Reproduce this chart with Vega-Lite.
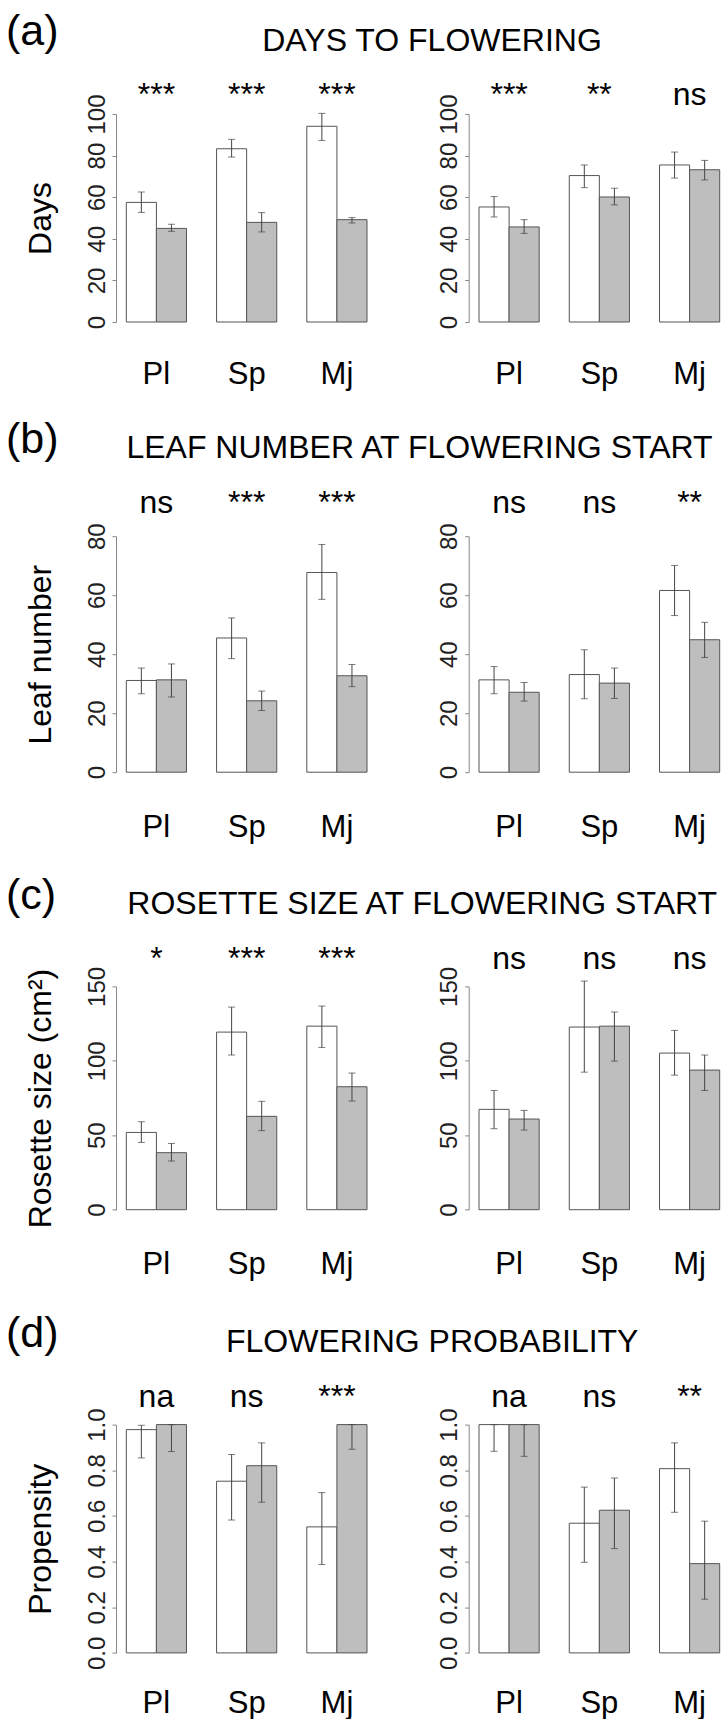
{
"$schema": "https://vega.github.io/schema/vega-lite/v6.json",
"background": "white",
"padding": {"left": 6, "top": 10, "right": 0, "bottom": 0},
"config": {
  "font": "Liberation Sans",
  "view": {"stroke": null},
  "axis": {"grid": false, "labelFont": "Liberation Sans", "titleFont": "Liberation Sans"},
  "title": {"font": "Liberation Sans", "fontWeight": "normal", "color": "black"},
  "text": {"font": "Liberation Sans"}
},
"datasets": {
  "bars": [
    {"panel":"a","side":"L","pop":"Pl","trt":"T1","mean":57.5,"lo":52.7,"hi":62.5},
    {"panel":"a","side":"L","pop":"Pl","trt":"T2","mean":45.0,"lo":43.6,"hi":47.0},
    {"panel":"a","side":"L","pop":"Sp","trt":"T1","mean":83.3,"lo":79.3,"hi":87.8},
    {"panel":"a","side":"L","pop":"Sp","trt":"T2","mean":47.9,"lo":43.3,"hi":52.6},
    {"panel":"a","side":"L","pop":"Mj","trt":"T1","mean":94.1,"lo":87.3,"hi":100.3},
    {"panel":"a","side":"L","pop":"Mj","trt":"T2","mean":49.2,"lo":47.6,"hi":50.2},
    {"panel":"a","side":"R","pop":"Pl","trt":"T1","mean":55.3,"lo":50.5,"hi":60.3},
    {"panel":"a","side":"R","pop":"Pl","trt":"T2","mean":45.7,"lo":42.6,"hi":49.2},
    {"panel":"a","side":"R","pop":"Sp","trt":"T1","mean":70.4,"lo":64.6,"hi":75.5},
    {"panel":"a","side":"R","pop":"Sp","trt":"T2","mean":60.1,"lo":56.3,"hi":64.3},
    {"panel":"a","side":"R","pop":"Mj","trt":"T1","mean":75.5,"lo":69.2,"hi":81.7},
    {"panel":"a","side":"R","pop":"Mj","trt":"T2","mean":73.2,"lo":68.3,"hi":77.7},
    {"panel":"b","side":"L","pop":"Pl","trt":"T1","mean":31.1,"lo":26.6,"hi":35.3},
    {"panel":"b","side":"L","pop":"Pl","trt":"T2","mean":31.3,"lo":25.5,"hi":36.7},
    {"panel":"b","side":"L","pop":"Sp","trt":"T1","mean":45.5,"lo":38.5,"hi":52.3},
    {"panel":"b","side":"L","pop":"Sp","trt":"T2","mean":24.2,"lo":20.9,"hi":27.5},
    {"panel":"b","side":"L","pop":"Mj","trt":"T1","mean":67.7,"lo":58.6,"hi":77.2},
    {"panel":"b","side":"L","pop":"Mj","trt":"T2","mean":32.7,"lo":29.0,"hi":36.5},
    {"panel":"b","side":"R","pop":"Pl","trt":"T1","mean":31.3,"lo":26.6,"hi":35.8},
    {"panel":"b","side":"R","pop":"Pl","trt":"T2","mean":27.1,"lo":24.1,"hi":30.4},
    {"panel":"b","side":"R","pop":"Sp","trt":"T1","mean":33.1,"lo":24.9,"hi":41.5},
    {"panel":"b","side":"R","pop":"Sp","trt":"T2","mean":30.2,"lo":25.0,"hi":35.3},
    {"panel":"b","side":"R","pop":"Mj","trt":"T1","mean":61.6,"lo":53.1,"hi":70.1},
    {"panel":"b","side":"R","pop":"Mj","trt":"T2","mean":44.9,"lo":38.9,"hi":50.8},
    {"panel":"c","side":"L","pop":"Pl","trt":"T1","mean":51.9,"lo":45.2,"hi":59.1},
    {"panel":"c","side":"L","pop":"Pl","trt":"T2","mean":38.3,"lo":32.7,"hi":44.5},
    {"panel":"c","side":"L","pop":"Sp","trt":"T1","mean":119.3,"lo":103.9,"hi":136.1},
    {"panel":"c","side":"L","pop":"Sp","trt":"T2","mean":62.7,"lo":53.1,"hi":72.8},
    {"panel":"c","side":"L","pop":"Mj","trt":"T1","mean":123.3,"lo":109.0,"hi":136.8},
    {"panel":"c","side":"L","pop":"Mj","trt":"T2","mean":82.6,"lo":73.0,"hi":91.8},
    {"panel":"c","side":"R","pop":"Pl","trt":"T1","mean":67.4,"lo":54.4,"hi":80.1},
    {"panel":"c","side":"R","pop":"Pl","trt":"T2","mean":60.9,"lo":53.5,"hi":66.7},
    {"panel":"c","side":"R","pop":"Sp","trt":"T1","mean":122.7,"lo":92.4,"hi":153.6},
    {"panel":"c","side":"R","pop":"Sp","trt":"T2","mean":123.3,"lo":99.8,"hi":132.8},
    {"panel":"c","side":"R","pop":"Mj","trt":"T1","mean":105.2,"lo":90.4,"hi":120.4},
    {"panel":"c","side":"R","pop":"Mj","trt":"T2","mean":93.8,"lo":80.1,"hi":103.9},
    {"panel":"d","side":"L","pop":"Pl","trt":"T1","mean":0.978,"lo":0.854,"hi":0.997},
    {"panel":"d","side":"L","pop":"Pl","trt":"T2","mean":1.0,"lo":0.882,"hi":1.0},
    {"panel":"d","side":"L","pop":"Sp","trt":"T1","mean":0.752,"lo":0.582,"hi":0.869},
    {"panel":"d","side":"L","pop":"Sp","trt":"T2","mean":0.820,"lo":0.660,"hi":0.920},
    {"panel":"d","side":"L","pop":"Mj","trt":"T1","mean":0.552,"lo":0.387,"hi":0.702},
    {"panel":"d","side":"L","pop":"Mj","trt":"T2","mean":1.0,"lo":0.892,"hi":1.0},
    {"panel":"d","side":"R","pop":"Pl","trt":"T1","mean":1.0,"lo":0.883,"hi":1.0},
    {"panel":"d","side":"R","pop":"Pl","trt":"T2","mean":1.0,"lo":0.861,"hi":1.0},
    {"panel":"d","side":"R","pop":"Sp","trt":"T1","mean":0.568,"lo":0.397,"hi":0.726},
    {"panel":"d","side":"R","pop":"Sp","trt":"T2","mean":0.625,"lo":0.457,"hi":0.766},
    {"panel":"d","side":"R","pop":"Mj","trt":"T1","mean":0.807,"lo":0.616,"hi":0.920},
    {"panel":"d","side":"R","pop":"Mj","trt":"T2","mean":0.391,"lo":0.235,"hi":0.577}
  ],
  "sig": [
    {"panel":"a","side":"L","pop":"Pl","sig":"***"},
    {"panel":"a","side":"L","pop":"Sp","sig":"***"},
    {"panel":"a","side":"L","pop":"Mj","sig":"***"},
    {"panel":"a","side":"R","pop":"Pl","sig":"***"},
    {"panel":"a","side":"R","pop":"Sp","sig":"**"},
    {"panel":"a","side":"R","pop":"Mj","sig":"ns"},
    {"panel":"b","side":"L","pop":"Pl","sig":"ns"},
    {"panel":"b","side":"L","pop":"Sp","sig":"***"},
    {"panel":"b","side":"L","pop":"Mj","sig":"***"},
    {"panel":"b","side":"R","pop":"Pl","sig":"ns"},
    {"panel":"b","side":"R","pop":"Sp","sig":"ns"},
    {"panel":"b","side":"R","pop":"Mj","sig":"**"},
    {"panel":"c","side":"L","pop":"Pl","sig":"*"},
    {"panel":"c","side":"L","pop":"Sp","sig":"***"},
    {"panel":"c","side":"L","pop":"Mj","sig":"***"},
    {"panel":"c","side":"R","pop":"Pl","sig":"ns"},
    {"panel":"c","side":"R","pop":"Sp","sig":"ns"},
    {"panel":"c","side":"R","pop":"Mj","sig":"ns"},
    {"panel":"d","side":"L","pop":"Pl","sig":"na"},
    {"panel":"d","side":"L","pop":"Sp","sig":"ns"},
    {"panel":"d","side":"L","pop":"Mj","sig":"***"},
    {"panel":"d","side":"R","pop":"Pl","sig":"na"},
    {"panel":"d","side":"R","pop":"Sp","sig":"ns"},
    {"panel":"d","side":"R","pop":"Mj","sig":"**"}
  ]
},
"columns": 2,
"spacing": {"row": 214.2, "column": 101.7},
"bounds": "flush",
"concat": [
{
 "width": 251, "height": 208,
 "title": {"text": "(a)", "anchor": "start", "frame": "group", "fontSize": 43, "dx": -110, "offset": 25.4},
 "data": {"name": "bars"},
 "transform": [{"filter": "datum.panel === 'a' && datum.side === 'L'"}],
 "resolve": {"axis": {"y": "independent"}},
 "encoding": {"x": {"field": "pop", "type": "nominal", "sort": ["Pl","Sp","Mj"], "scale": {"domain": ["Pl","Sp","Mj"], "paddingInner": 0.3333, "paddingOuter": 0.0571, "align": 1}, "axis": {"title": null, "orient": "bottom", "domain": false, "ticks": false, "tickSize": 0, "labelAngle": 0, "labelFontSize": 31, "labelColor": "black", "labelBaseline": "alphabetic", "labelPadding": 61}}},
 "layer": [
  {"mark": {"type": "bar", "stroke": "#555", "strokeWidth": 1},
   "encoding": {
     "xOffset": {"field": "trt", "type": "nominal", "sort": ["T1","T2"], "scale": {"domain": ["T1","T2"], "paddingInner": 0, "paddingOuter": 0}},
     "y": {"field": "mean", "type": "quantitative", "scale": {"domain": [0,100], "nice": false, "zero": true},
           "axis": {"values": [0,20,40,60,80,100], "title": "Days", "titleFontSize": 32, "titleFontWeight": "normal", "titleColor": "black", "titlePadding": 27.3, "labelAngle": 270, "labelAlign": "center", "labelBaseline": "alphabetic", "labelFontSize": 24, "labelColor": "#222", "labelPadding": 8, "tickSize": 4, "tickColor": "#888", "domainColor": "#888", "labelOverlap": false, "labelFlush": false}},
     "fill": {"field": "trt", "type": "nominal", "scale": {"domain": ["T1","T2"], "range": ["#ffffff","#bebebe"]}, "legend": null}}},
  {"mark": {"type": "rule", "color": "#444", "strokeWidth": 1},
   "encoding": {"xOffset": {"field": "trt", "type": "nominal", "sort": ["T1","T2"], "scale": {"domain": ["T1","T2"], "paddingInner": 0, "paddingOuter": 0}},
     "y": {"field": "lo", "type": "quantitative", "scale": {"domain": [0,100], "nice": false}, "axis": null}, "y2": {"field": "hi"}}},
  {"mark": {"type": "tick", "orient": "horizontal", "size": 7, "thickness": 1, "color": "#444"},
   "encoding": {"xOffset": {"field": "trt", "type": "nominal", "sort": ["T1","T2"], "scale": {"domain": ["T1","T2"], "paddingInner": 0, "paddingOuter": 0}},
     "y": {"field": "lo", "type": "quantitative", "scale": {"domain": [0,100], "nice": false}, "axis": null}}},
  {"mark": {"type": "tick", "orient": "horizontal", "size": 7, "thickness": 1, "color": "#444"},
   "encoding": {"xOffset": {"field": "trt", "type": "nominal", "sort": ["T1","T2"], "scale": {"domain": ["T1","T2"], "paddingInner": 0, "paddingOuter": 0}},
     "y": {"field": "hi", "type": "quantitative", "scale": {"domain": [0,100], "nice": false}, "axis": null}}},
  {"data": {"name": "sig"}, "transform": [{"filter": "datum.panel === 'a' && datum.side === 'L'"}],
   "mark": {"type": "text", "fontSize": 32, "baseline": "alphabetic", "align": "center", "color": "black"},
   "encoding": {"text": {"field": "sig"}, "y": {"datum": 104.2, "type": "quantitative", "scale": {"domain": [0,100], "nice": false}, "axis": null}}}
 ]
},
{
 "width": 251, "height": 208,
 "title": {"text": "DAYS TO FLOWERING", "anchor": "middle", "frame": "group", "fontSize": 32, "dx": -162.2, "offset": 21.7},
 "data": {"name": "bars"},
 "transform": [{"filter": "datum.panel === 'a' && datum.side === 'R'"}],
 "resolve": {"axis": {"y": "independent"}},
 "encoding": {"x": {"field": "pop", "type": "nominal", "sort": ["Pl","Sp","Mj"], "scale": {"domain": ["Pl","Sp","Mj"], "paddingInner": 0.3333, "paddingOuter": 0.0571, "align": 1}, "axis": {"title": null, "orient": "bottom", "domain": false, "ticks": false, "tickSize": 0, "labelAngle": 0, "labelFontSize": 31, "labelColor": "black", "labelBaseline": "alphabetic", "labelPadding": 61}}},
 "layer": [
  {"mark": {"type": "bar", "stroke": "#555", "strokeWidth": 1},
   "encoding": {
     "xOffset": {"field": "trt", "type": "nominal", "sort": ["T1","T2"], "scale": {"domain": ["T1","T2"], "paddingInner": 0, "paddingOuter": 0}},
     "y": {"field": "mean", "type": "quantitative", "scale": {"domain": [0,100], "nice": false, "zero": true},
           "axis": {"values": [0,20,40,60,80,100], "title": null, "labelAngle": 270, "labelAlign": "center", "labelBaseline": "alphabetic", "labelFontSize": 24, "labelColor": "#222", "labelPadding": 8, "tickSize": 4, "tickColor": "#888", "domainColor": "#888", "labelOverlap": false, "labelFlush": false}},
     "fill": {"field": "trt", "type": "nominal", "scale": {"domain": ["T1","T2"], "range": ["#ffffff","#bebebe"]}, "legend": null}}},
  {"mark": {"type": "rule", "color": "#444", "strokeWidth": 1},
   "encoding": {"xOffset": {"field": "trt", "type": "nominal", "sort": ["T1","T2"], "scale": {"domain": ["T1","T2"], "paddingInner": 0, "paddingOuter": 0}},
     "y": {"field": "lo", "type": "quantitative", "scale": {"domain": [0,100], "nice": false}, "axis": null}, "y2": {"field": "hi"}}},
  {"mark": {"type": "tick", "orient": "horizontal", "size": 7, "thickness": 1, "color": "#444"},
   "encoding": {"xOffset": {"field": "trt", "type": "nominal", "sort": ["T1","T2"], "scale": {"domain": ["T1","T2"], "paddingInner": 0, "paddingOuter": 0}},
     "y": {"field": "lo", "type": "quantitative", "scale": {"domain": [0,100], "nice": false}, "axis": null}}},
  {"mark": {"type": "tick", "orient": "horizontal", "size": 7, "thickness": 1, "color": "#444"},
   "encoding": {"xOffset": {"field": "trt", "type": "nominal", "sort": ["T1","T2"], "scale": {"domain": ["T1","T2"], "paddingInner": 0, "paddingOuter": 0}},
     "y": {"field": "hi", "type": "quantitative", "scale": {"domain": [0,100], "nice": false}, "axis": null}}},
  {"data": {"name": "sig"}, "transform": [{"filter": "datum.panel === 'a' && datum.side === 'R'"}],
   "mark": {"type": "text", "fontSize": 32, "baseline": "alphabetic", "align": "center", "color": "black"},
   "encoding": {"text": {"field": "sig"}, "y": {"datum": 104.2, "type": "quantitative", "scale": {"domain": [0,100], "nice": false}, "axis": null}}}
 ]
},
{
 "width": 251, "height": 236,
 "title": {"text": "(b)", "anchor": "start", "frame": "group", "fontSize": 43, "dx": -110, "offset": 25.4},
 "data": {"name": "bars"},
 "transform": [{"filter": "datum.panel === 'b' && datum.side === 'L'"}],
 "resolve": {"axis": {"y": "independent"}},
 "encoding": {"x": {"field": "pop", "type": "nominal", "sort": ["Pl","Sp","Mj"], "scale": {"domain": ["Pl","Sp","Mj"], "paddingInner": 0.3333, "paddingOuter": 0.0571, "align": 1}, "axis": {"title": null, "orient": "bottom", "domain": false, "ticks": false, "tickSize": 0, "labelAngle": 0, "labelFontSize": 31, "labelColor": "black", "labelBaseline": "alphabetic", "labelPadding": 64}}},
 "layer": [
  {"mark": {"type": "bar", "stroke": "#555", "strokeWidth": 1},
   "encoding": {
     "xOffset": {"field": "trt", "type": "nominal", "sort": ["T1","T2"], "scale": {"domain": ["T1","T2"], "paddingInner": 0, "paddingOuter": 0}},
     "y": {"field": "mean", "type": "quantitative", "scale": {"domain": [0,80], "nice": false, "zero": true},
           "axis": {"values": [0,20,40,60,80], "title": "Leaf number", "titleFontSize": 32, "titleFontWeight": "normal", "titleColor": "black", "titlePadding": 27.3, "labelAngle": 270, "labelAlign": "center", "labelBaseline": "alphabetic", "labelFontSize": 24, "labelColor": "#222", "labelPadding": 8, "tickSize": 4, "tickColor": "#888", "domainColor": "#888", "labelOverlap": false, "labelFlush": false}},
     "fill": {"field": "trt", "type": "nominal", "scale": {"domain": ["T1","T2"], "range": ["#ffffff","#bebebe"]}, "legend": null}}},
  {"mark": {"type": "rule", "color": "#444", "strokeWidth": 1},
   "encoding": {"xOffset": {"field": "trt", "type": "nominal", "sort": ["T1","T2"], "scale": {"domain": ["T1","T2"], "paddingInner": 0, "paddingOuter": 0}},
     "y": {"field": "lo", "type": "quantitative", "scale": {"domain": [0,80], "nice": false}, "axis": null}, "y2": {"field": "hi"}}},
  {"mark": {"type": "tick", "orient": "horizontal", "size": 7, "thickness": 1, "color": "#444"},
   "encoding": {"xOffset": {"field": "trt", "type": "nominal", "sort": ["T1","T2"], "scale": {"domain": ["T1","T2"], "paddingInner": 0, "paddingOuter": 0}},
     "y": {"field": "lo", "type": "quantitative", "scale": {"domain": [0,80], "nice": false}, "axis": null}}},
  {"mark": {"type": "tick", "orient": "horizontal", "size": 7, "thickness": 1, "color": "#444"},
   "encoding": {"xOffset": {"field": "trt", "type": "nominal", "sort": ["T1","T2"], "scale": {"domain": ["T1","T2"], "paddingInner": 0, "paddingOuter": 0}},
     "y": {"field": "hi", "type": "quantitative", "scale": {"domain": [0,80], "nice": false}, "axis": null}}},
  {"data": {"name": "sig"}, "transform": [{"filter": "datum.panel === 'b' && datum.side === 'L'"}],
   "mark": {"type": "text", "fontSize": 32, "baseline": "alphabetic", "align": "center", "color": "black"},
   "encoding": {"text": {"field": "sig"}, "y": {"datum": 87.8, "type": "quantitative", "scale": {"domain": [0,80], "nice": false}, "axis": null}}}
 ]
},
{
 "width": 251, "height": 236,
 "title": {"text": "LEAF NUMBER AT FLOWERING START", "anchor": "middle", "frame": "group", "fontSize": 32, "dx": -174.7, "offset": 21.7},
 "data": {"name": "bars"},
 "transform": [{"filter": "datum.panel === 'b' && datum.side === 'R'"}],
 "resolve": {"axis": {"y": "independent"}},
 "encoding": {"x": {"field": "pop", "type": "nominal", "sort": ["Pl","Sp","Mj"], "scale": {"domain": ["Pl","Sp","Mj"], "paddingInner": 0.3333, "paddingOuter": 0.0571, "align": 1}, "axis": {"title": null, "orient": "bottom", "domain": false, "ticks": false, "tickSize": 0, "labelAngle": 0, "labelFontSize": 31, "labelColor": "black", "labelBaseline": "alphabetic", "labelPadding": 64}}},
 "layer": [
  {"mark": {"type": "bar", "stroke": "#555", "strokeWidth": 1},
   "encoding": {
     "xOffset": {"field": "trt", "type": "nominal", "sort": ["T1","T2"], "scale": {"domain": ["T1","T2"], "paddingInner": 0, "paddingOuter": 0}},
     "y": {"field": "mean", "type": "quantitative", "scale": {"domain": [0,80], "nice": false, "zero": true},
           "axis": {"values": [0,20,40,60,80], "title": null, "labelAngle": 270, "labelAlign": "center", "labelBaseline": "alphabetic", "labelFontSize": 24, "labelColor": "#222", "labelPadding": 8, "tickSize": 4, "tickColor": "#888", "domainColor": "#888", "labelOverlap": false, "labelFlush": false}},
     "fill": {"field": "trt", "type": "nominal", "scale": {"domain": ["T1","T2"], "range": ["#ffffff","#bebebe"]}, "legend": null}}},
  {"mark": {"type": "rule", "color": "#444", "strokeWidth": 1},
   "encoding": {"xOffset": {"field": "trt", "type": "nominal", "sort": ["T1","T2"], "scale": {"domain": ["T1","T2"], "paddingInner": 0, "paddingOuter": 0}},
     "y": {"field": "lo", "type": "quantitative", "scale": {"domain": [0,80], "nice": false}, "axis": null}, "y2": {"field": "hi"}}},
  {"mark": {"type": "tick", "orient": "horizontal", "size": 7, "thickness": 1, "color": "#444"},
   "encoding": {"xOffset": {"field": "trt", "type": "nominal", "sort": ["T1","T2"], "scale": {"domain": ["T1","T2"], "paddingInner": 0, "paddingOuter": 0}},
     "y": {"field": "lo", "type": "quantitative", "scale": {"domain": [0,80], "nice": false}, "axis": null}}},
  {"mark": {"type": "tick", "orient": "horizontal", "size": 7, "thickness": 1, "color": "#444"},
   "encoding": {"xOffset": {"field": "trt", "type": "nominal", "sort": ["T1","T2"], "scale": {"domain": ["T1","T2"], "paddingInner": 0, "paddingOuter": 0}},
     "y": {"field": "hi", "type": "quantitative", "scale": {"domain": [0,80], "nice": false}, "axis": null}}},
  {"data": {"name": "sig"}, "transform": [{"filter": "datum.panel === 'b' && datum.side === 'R'"}],
   "mark": {"type": "text", "fontSize": 32, "baseline": "alphabetic", "align": "center", "color": "black"},
   "encoding": {"text": {"field": "sig"}, "y": {"datum": 87.8, "type": "quantitative", "scale": {"domain": [0,80], "nice": false}, "axis": null}}}
 ]
},
{
 "width": 251, "height": 223.3,
 "title": {"text": "(c)", "anchor": "start", "frame": "group", "fontSize": 43, "dx": -110, "offset": 25.4},
 "data": {"name": "bars"},
 "transform": [{"filter": "datum.panel === 'c' && datum.side === 'L'"}],
 "resolve": {"axis": {"y": "independent"}},
 "encoding": {"x": {"field": "pop", "type": "nominal", "sort": ["Pl","Sp","Mj"], "scale": {"domain": ["Pl","Sp","Mj"], "paddingInner": 0.3333, "paddingOuter": 0.0571, "align": 1}, "axis": {"title": null, "orient": "bottom", "domain": false, "ticks": false, "tickSize": 0, "labelAngle": 0, "labelFontSize": 31, "labelColor": "black", "labelBaseline": "alphabetic", "labelPadding": 64}}},
 "layer": [
  {"mark": {"type": "bar", "stroke": "#555", "strokeWidth": 1},
   "encoding": {
     "xOffset": {"field": "trt", "type": "nominal", "sort": ["T1","T2"], "scale": {"domain": ["T1","T2"], "paddingInner": 0, "paddingOuter": 0}},
     "y": {"field": "mean", "type": "quantitative", "scale": {"domain": [0,150], "nice": false, "zero": true},
           "axis": {"values": [0,50,100,150], "title": "Rosette size (cm²)", "titleFontSize": 32, "titleFontWeight": "normal", "titleColor": "black", "titlePadding": 27.3, "labelAngle": 270, "labelAlign": "center", "labelBaseline": "alphabetic", "labelFontSize": 24, "labelColor": "#222", "labelPadding": 8, "tickSize": 4, "tickColor": "#888", "domainColor": "#888", "labelOverlap": false, "labelFlush": false}},
     "fill": {"field": "trt", "type": "nominal", "scale": {"domain": ["T1","T2"], "range": ["#ffffff","#bebebe"]}, "legend": null}}},
  {"mark": {"type": "rule", "color": "#444", "strokeWidth": 1},
   "encoding": {"xOffset": {"field": "trt", "type": "nominal", "sort": ["T1","T2"], "scale": {"domain": ["T1","T2"], "paddingInner": 0, "paddingOuter": 0}},
     "y": {"field": "lo", "type": "quantitative", "scale": {"domain": [0,150], "nice": false}, "axis": null}, "y2": {"field": "hi"}}},
  {"mark": {"type": "tick", "orient": "horizontal", "size": 7, "thickness": 1, "color": "#444"},
   "encoding": {"xOffset": {"field": "trt", "type": "nominal", "sort": ["T1","T2"], "scale": {"domain": ["T1","T2"], "paddingInner": 0, "paddingOuter": 0}},
     "y": {"field": "lo", "type": "quantitative", "scale": {"domain": [0,150], "nice": false}, "axis": null}}},
  {"mark": {"type": "tick", "orient": "horizontal", "size": 7, "thickness": 1, "color": "#444"},
   "encoding": {"xOffset": {"field": "trt", "type": "nominal", "sort": ["T1","T2"], "scale": {"domain": ["T1","T2"], "paddingInner": 0, "paddingOuter": 0}},
     "y": {"field": "hi", "type": "quantitative", "scale": {"domain": [0,150], "nice": false}, "axis": null}}},
  {"data": {"name": "sig"}, "transform": [{"filter": "datum.panel === 'c' && datum.side === 'L'"}],
   "mark": {"type": "text", "fontSize": 32, "baseline": "alphabetic", "align": "center", "color": "black"},
   "encoding": {"text": {"field": "sig"}, "y": {"datum": 161.75, "type": "quantitative", "scale": {"domain": [0,150], "nice": false}, "axis": null}}}
 ]
},
{
 "width": 251, "height": 223.3,
 "title": {"text": "ROSETTE SIZE AT FLOWERING START", "anchor": "middle", "frame": "group", "fontSize": 32, "dx": -172, "offset": 21.7},
 "data": {"name": "bars"},
 "transform": [{"filter": "datum.panel === 'c' && datum.side === 'R'"}],
 "resolve": {"axis": {"y": "independent"}},
 "encoding": {"x": {"field": "pop", "type": "nominal", "sort": ["Pl","Sp","Mj"], "scale": {"domain": ["Pl","Sp","Mj"], "paddingInner": 0.3333, "paddingOuter": 0.0571, "align": 1}, "axis": {"title": null, "orient": "bottom", "domain": false, "ticks": false, "tickSize": 0, "labelAngle": 0, "labelFontSize": 31, "labelColor": "black", "labelBaseline": "alphabetic", "labelPadding": 64}}},
 "layer": [
  {"mark": {"type": "bar", "stroke": "#555", "strokeWidth": 1},
   "encoding": {
     "xOffset": {"field": "trt", "type": "nominal", "sort": ["T1","T2"], "scale": {"domain": ["T1","T2"], "paddingInner": 0, "paddingOuter": 0}},
     "y": {"field": "mean", "type": "quantitative", "scale": {"domain": [0,150], "nice": false, "zero": true},
           "axis": {"values": [0,50,100,150], "title": null, "labelAngle": 270, "labelAlign": "center", "labelBaseline": "alphabetic", "labelFontSize": 24, "labelColor": "#222", "labelPadding": 8, "tickSize": 4, "tickColor": "#888", "domainColor": "#888", "labelOverlap": false, "labelFlush": false}},
     "fill": {"field": "trt", "type": "nominal", "scale": {"domain": ["T1","T2"], "range": ["#ffffff","#bebebe"]}, "legend": null}}},
  {"mark": {"type": "rule", "color": "#444", "strokeWidth": 1},
   "encoding": {"xOffset": {"field": "trt", "type": "nominal", "sort": ["T1","T2"], "scale": {"domain": ["T1","T2"], "paddingInner": 0, "paddingOuter": 0}},
     "y": {"field": "lo", "type": "quantitative", "scale": {"domain": [0,150], "nice": false}, "axis": null}, "y2": {"field": "hi"}}},
  {"mark": {"type": "tick", "orient": "horizontal", "size": 7, "thickness": 1, "color": "#444"},
   "encoding": {"xOffset": {"field": "trt", "type": "nominal", "sort": ["T1","T2"], "scale": {"domain": ["T1","T2"], "paddingInner": 0, "paddingOuter": 0}},
     "y": {"field": "lo", "type": "quantitative", "scale": {"domain": [0,150], "nice": false}, "axis": null}}},
  {"mark": {"type": "tick", "orient": "horizontal", "size": 7, "thickness": 1, "color": "#444"},
   "encoding": {"xOffset": {"field": "trt", "type": "nominal", "sort": ["T1","T2"], "scale": {"domain": ["T1","T2"], "paddingInner": 0, "paddingOuter": 0}},
     "y": {"field": "hi", "type": "quantitative", "scale": {"domain": [0,150], "nice": false}, "axis": null}}},
  {"data": {"name": "sig"}, "transform": [{"filter": "datum.panel === 'c' && datum.side === 'R'"}],
   "mark": {"type": "text", "fontSize": 32, "baseline": "alphabetic", "align": "center", "color": "black"},
   "encoding": {"text": {"field": "sig"}, "y": {"datum": 161.75, "type": "quantitative", "scale": {"domain": [0,150], "nice": false}, "axis": null}}}
 ]
},
{
 "width": 251, "height": 228.3,
 "title": {"text": "(d)", "anchor": "start", "frame": "group", "fontSize": 43, "dx": -110, "offset": 25.4},
 "data": {"name": "bars"},
 "transform": [{"filter": "datum.panel === 'd' && datum.side === 'L'"}],
 "resolve": {"axis": {"y": "independent"}},
 "encoding": {"x": {"field": "pop", "type": "nominal", "sort": ["Pl","Sp","Mj"], "scale": {"domain": ["Pl","Sp","Mj"], "paddingInner": 0.3333, "paddingOuter": 0.0571, "align": 1}, "axis": {"title": null, "orient": "bottom", "domain": false, "ticks": false, "tickSize": 0, "labelAngle": 0, "labelFontSize": 31, "labelColor": "black", "labelBaseline": "alphabetic", "labelPadding": 60}}},
 "layer": [
  {"mark": {"type": "bar", "stroke": "#555", "strokeWidth": 1},
   "encoding": {
     "xOffset": {"field": "trt", "type": "nominal", "sort": ["T1","T2"], "scale": {"domain": ["T1","T2"], "paddingInner": 0, "paddingOuter": 0}},
     "y": {"field": "mean", "type": "quantitative", "scale": {"domain": [0,1], "nice": false, "zero": true},
           "axis": {"values": [0,0.2,0.4,0.6,0.8,1], "format": ".1f", "title": "Propensity", "titleFontSize": 32, "titleFontWeight": "normal", "titleColor": "black", "titlePadding": 27.3, "labelAngle": 270, "labelAlign": "center", "labelBaseline": "alphabetic", "labelFontSize": 24, "labelColor": "#222", "labelPadding": 8, "tickSize": 4, "tickColor": "#888", "domainColor": "#888", "labelOverlap": false, "labelFlush": false}},
     "fill": {"field": "trt", "type": "nominal", "scale": {"domain": ["T1","T2"], "range": ["#ffffff","#bebebe"]}, "legend": null}}},
  {"mark": {"type": "rule", "color": "#444", "strokeWidth": 1},
   "encoding": {"xOffset": {"field": "trt", "type": "nominal", "sort": ["T1","T2"], "scale": {"domain": ["T1","T2"], "paddingInner": 0, "paddingOuter": 0}},
     "y": {"field": "lo", "type": "quantitative", "scale": {"domain": [0,1], "nice": false}, "axis": null}, "y2": {"field": "hi"}}},
  {"mark": {"type": "tick", "orient": "horizontal", "size": 7, "thickness": 1, "color": "#444"},
   "encoding": {"xOffset": {"field": "trt", "type": "nominal", "sort": ["T1","T2"], "scale": {"domain": ["T1","T2"], "paddingInner": 0, "paddingOuter": 0}},
     "y": {"field": "lo", "type": "quantitative", "scale": {"domain": [0,1], "nice": false}, "axis": null}}},
  {"mark": {"type": "tick", "orient": "horizontal", "size": 7, "thickness": 1, "color": "#444"},
   "encoding": {"xOffset": {"field": "trt", "type": "nominal", "sort": ["T1","T2"], "scale": {"domain": ["T1","T2"], "paddingInner": 0, "paddingOuter": 0}},
     "y": {"field": "hi", "type": "quantitative", "scale": {"domain": [0,1], "nice": false}, "axis": null}}},
  {"data": {"name": "sig"}, "transform": [{"filter": "datum.panel === 'd' && datum.side === 'L'"}],
   "mark": {"type": "text", "fontSize": 32, "baseline": "alphabetic", "align": "center", "color": "black"},
   "encoding": {"text": {"field": "sig"}, "y": {"datum": 1.0775, "type": "quantitative", "scale": {"domain": [0,1], "nice": false}, "axis": null}}}
 ]
},
{
 "width": 251, "height": 228.3,
 "title": {"text": "FLOWERING PROBABILITY", "anchor": "middle", "frame": "group", "fontSize": 32, "dx": -162, "offset": 21.7},
 "data": {"name": "bars"},
 "transform": [{"filter": "datum.panel === 'd' && datum.side === 'R'"}],
 "resolve": {"axis": {"y": "independent"}},
 "encoding": {"x": {"field": "pop", "type": "nominal", "sort": ["Pl","Sp","Mj"], "scale": {"domain": ["Pl","Sp","Mj"], "paddingInner": 0.3333, "paddingOuter": 0.0571, "align": 1}, "axis": {"title": null, "orient": "bottom", "domain": false, "ticks": false, "tickSize": 0, "labelAngle": 0, "labelFontSize": 31, "labelColor": "black", "labelBaseline": "alphabetic", "labelPadding": 60}}},
 "layer": [
  {"mark": {"type": "bar", "stroke": "#555", "strokeWidth": 1},
   "encoding": {
     "xOffset": {"field": "trt", "type": "nominal", "sort": ["T1","T2"], "scale": {"domain": ["T1","T2"], "paddingInner": 0, "paddingOuter": 0}},
     "y": {"field": "mean", "type": "quantitative", "scale": {"domain": [0,1], "nice": false, "zero": true},
           "axis": {"values": [0,0.2,0.4,0.6,0.8,1], "format": ".1f", "title": null, "labelAngle": 270, "labelAlign": "center", "labelBaseline": "alphabetic", "labelFontSize": 24, "labelColor": "#222", "labelPadding": 8, "tickSize": 4, "tickColor": "#888", "domainColor": "#888", "labelOverlap": false, "labelFlush": false}},
     "fill": {"field": "trt", "type": "nominal", "scale": {"domain": ["T1","T2"], "range": ["#ffffff","#bebebe"]}, "legend": null}}},
  {"mark": {"type": "rule", "color": "#444", "strokeWidth": 1},
   "encoding": {"xOffset": {"field": "trt", "type": "nominal", "sort": ["T1","T2"], "scale": {"domain": ["T1","T2"], "paddingInner": 0, "paddingOuter": 0}},
     "y": {"field": "lo", "type": "quantitative", "scale": {"domain": [0,1], "nice": false}, "axis": null}, "y2": {"field": "hi"}}},
  {"mark": {"type": "tick", "orient": "horizontal", "size": 7, "thickness": 1, "color": "#444"},
   "encoding": {"xOffset": {"field": "trt", "type": "nominal", "sort": ["T1","T2"], "scale": {"domain": ["T1","T2"], "paddingInner": 0, "paddingOuter": 0}},
     "y": {"field": "lo", "type": "quantitative", "scale": {"domain": [0,1], "nice": false}, "axis": null}}},
  {"mark": {"type": "tick", "orient": "horizontal", "size": 7, "thickness": 1, "color": "#444"},
   "encoding": {"xOffset": {"field": "trt", "type": "nominal", "sort": ["T1","T2"], "scale": {"domain": ["T1","T2"], "paddingInner": 0, "paddingOuter": 0}},
     "y": {"field": "hi", "type": "quantitative", "scale": {"domain": [0,1], "nice": false}, "axis": null}}},
  {"data": {"name": "sig"}, "transform": [{"filter": "datum.panel === 'd' && datum.side === 'R'"}],
   "mark": {"type": "text", "fontSize": 32, "baseline": "alphabetic", "align": "center", "color": "black"},
   "encoding": {"text": {"field": "sig"}, "y": {"datum": 1.0775, "type": "quantitative", "scale": {"domain": [0,1], "nice": false}, "axis": null}}}
 ]
}
]
}
